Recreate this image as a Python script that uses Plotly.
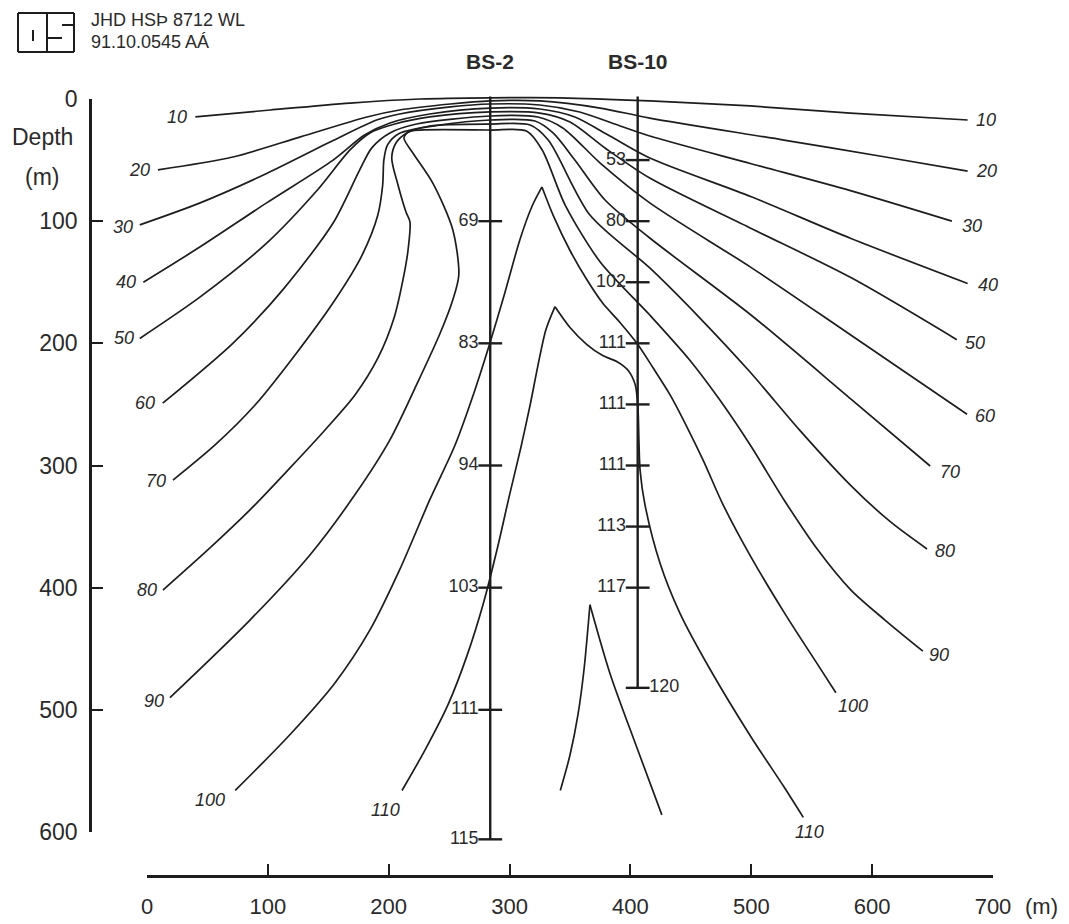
import plotly.graph_objects as go

# ---- isotherms (deg C): distance along profile (m) and depth (m) ----
t10_dist = [40, 102, 168, 226, 284, 342, 416, 499, 582, 679]
t10_depth = [14.7, 9.0, 3.3, 0.0, -1.0, -1.0, 1.6, 5.7, 11.5, 17.2]

t20_dist = [9, 71, 127, 182, 209, 251, 284, 325, 375, 416, 527, 611, 679]
t20_depth = [58, 47.5, 31, 14.7, 9.0, 4.1, 1.6, 1.6, 7.4, 15.6, 33.6, 47.5, 59]

t30_dist = [-6, 44, 99, 154, 190, 209, 251, 284, 325, 358, 387, 416, 500, 582, 666]
t30_depth = [103, 85, 61, 34, 17.2, 12.3, 6.5, 4.1, 4.9, 10.6, 20.5, 30.3, 53, 75, 100]

t40_dist = [-3, 44, 99, 154, 180, 201, 234, 284, 325, 354, 383, 416, 500, 582, 679]
t40_depth = [150, 121, 85, 50, 29.5, 19.6, 12.3, 7.4, 8.2, 14.7, 30.3, 48.3, 80, 114, 151]

t50_dist = [-6, 44, 99, 141, 168, 184.5, 205, 234, 284, 325, 350, 379, 416, 500, 582, 670]
t50_depth = [196, 162, 118, 74.5, 41.7, 27.8, 20.5, 14.7, 10.6, 11.5, 18.8, 40.1, 64.7, 106, 146, 197]

t60_dist = [13, 71, 112.5, 154, 176, 186, 201, 223, 284, 323.5, 344, 375, 416, 500, 582, 678.5]
t60_depth = [249, 200, 156, 101.5, 58, 40, 27.8, 20.5, 13.9, 14.7, 23.7, 52.4, 85, 138, 193, 258]

t70_dist = [21.5, 56.3, 89.4, 122.5, 155.5, 178, 191, 195, 196, 199, 209, 242, 284, 321, 336,
            354, 379, 416, 500, 582.5, 648]
t70_depth = [312, 283.2, 250.5, 209.5, 164.5, 127.7, 95, 70.4, 49.9, 37.6, 28, 21.3, 17.2, 18,
             27.8, 49.9, 82.7, 113.8, 177, 245.6, 300.4]

t80_dist = [13.2, 52.1, 85.2, 118.3, 147.3, 172.1, 191.1, 204.4, 212.6, 216, 217.6, 214.3, 207.7,
            202.5, 206, 215, 234, 284, 317, 332, 366.5, 416, 457.5, 499, 540, 582, 615, 645.4]
t80_depth = [402, 367.5, 336.4, 302, 270.9, 242.3, 212, 179.3, 144, 123.6, 100.7, 92.5, 70.4,
             48.3, 36, 27.8, 22.1, 20.5, 21.3, 33.6, 95, 138.3, 179.3, 223.5, 271, 316, 346, 368.3]

t90_dist = [19, 85.2, 135, 172, 201, 223, 242, 253, 258, 253, 236.6, 220, 212.6, 216, 226,
            284, 314, 327, 346, 375, 416, 449, 474, 499, 527, 555, 582.5, 610.6, 642]
t90_depth = [490, 426.5, 373, 324, 279, 234, 193, 164.5, 144, 107, 69, 44.2, 32, 27, 25.4,
             25.4, 26.2, 41.7, 86.8, 133.4, 176.8, 213.6, 246.4, 283, 328, 369, 402, 426.5, 452]

t100_dist = [73, 118, 155.5, 184.5, 209, 234, 255, 271.4, 284, 296, 308.6, 318.5, 326.8,
             336, 350, 364, 377, 391, 405.4, 418.7, 432.7, 446.8, 460.8, 476.6, 499.8, 527,
             555, 570]
t100_depth = [566, 520.6, 478, 434.6, 385.5, 328, 283, 238, 199, 159, 115, 88, 72,
              95, 124, 148, 167, 182.5, 200, 220, 242, 268.5, 297, 332, 375, 420,
              463, 486]

t110_dist = [211, 230, 249, 265, 278, 289.6, 300, 309.4, 317, 323.5, 330, 337.6,
             350, 364, 377, 389, 398, 404, 406.3, 407, 408, 412, 424.5, 441, 466, 499, 527, 543]
t110_depth = [566, 533, 496, 455, 414, 369, 324, 285, 250.5, 218, 189, 170,
              187, 201, 210, 215, 222, 234, 255, 279, 304, 332, 380, 421, 467, 521, 563, 588]

t120_dist = [342, 350, 356.6, 361.6, 366.5, 383, 405, 426]
t120_depth = [566, 537, 504, 467, 414, 470, 530, 586]

isotherm_names = ["10", "20", "30", "40", "50", "60", "70", "80", "90", "100", "110", "120"]
isotherm_dist = [t10_dist, t20_dist, t30_dist, t40_dist, t50_dist, t60_dist, t70_dist,
                 t80_dist, t90_dist, t100_dist, t110_dist, t120_dist]
isotherm_depth = [t10_depth, t20_depth, t30_depth, t40_depth, t50_depth, t60_depth, t70_depth,
                  t80_depth, t90_depth, t100_depth, t110_depth, t120_depth]

# ---- wells: position, bottom depth and measured temperatures ----
bs2_dist = 284
bs2_bottom = 606
bs2_depths = [100, 200, 300, 400, 500, 606]
bs2_temps = ["69", "83", "94", "103", "111", "115"]

bs10_dist = 406
bs10_bottom = 482
bs10_depths = [50, 100, 150, 200, 250, 300, 350, 400]
bs10_temps = ["53", "80", "102", "111", "111", "111", "113", "117"]
bs10_bottom_temp = "120"

# ---- scale bars ----
dist_ticks = [0, 100, 200, 300, 400, 500, 600, 700]
depth_ticks = [0, 100, 200, 300, 400, 500, 600]

W, H = 1069, 924
INK = "#1d1d1d"
TXT = "#2a2a2a"
FONT = "Liberation Sans, Arial, sans-serif"

# pixel layout of the drawing
PX_PER_M_X = 846 / 700
PX_PER_M_Y = 733 / 600
X0_PX, Y0_PX = 147, 99

# sharp crests: the curve is split there so the spline keeps the point
crest_index = {"100": 12, "110": 11, "120": 4}

fig = go.Figure()

for name, xs, ds in zip(isotherm_names, isotherm_dist, isotherm_depth):
    cut = crest_index.get(name)
    pieces = [(xs, ds)] if cut is None else [(xs[:cut + 1], ds[:cut + 1]), (xs[cut:], ds[cut:])]
    for px_, pd_ in pieces:
        fig.add_trace(go.Scatter(x=px_, y=pd_, mode="lines", name=name,
                                 line=dict(color=INK, width=1.7, shape="spline", smoothing=0.8),
                                 hoverinfo="skip", showlegend=False))

# wells
for wx, wb in [(bs2_dist, bs2_bottom), (bs10_dist, bs10_bottom)]:
    fig.add_trace(go.Scatter(x=[wx, wx], y=[-2, wb], mode="lines",
                             line=dict(color=INK, width=2.4), hoverinfo="skip", showlegend=False))

tick_marker = dict(symbol="line-ew", size=17, line=dict(color=INK, width=2.4))
fig.add_trace(go.Scatter(x=[bs2_dist] * len(bs2_depths), y=bs2_depths, mode="markers+text",
                         text=bs2_temps, textposition="middle left",
                         textfont=dict(family=FONT, size=18, color=TXT), marker=tick_marker,
                         hoverinfo="skip", showlegend=False))
fig.add_trace(go.Scatter(x=[bs10_dist] * len(bs10_depths), y=bs10_depths, mode="markers+text",
                         text=bs10_temps, textposition="middle left",
                         textfont=dict(family=FONT, size=18, color=TXT), marker=tick_marker,
                         hoverinfo="skip", showlegend=False))
fig.add_trace(go.Scatter(x=[bs10_dist], y=[bs10_bottom], mode="markers+text",
                         text=[bs10_bottom_temp], textposition="middle right",
                         textfont=dict(family=FONT, size=18, color=TXT), marker=tick_marker,
                         hoverinfo="skip", showlegend=False))

# anchor trace so the scale-bar axes are drawn
fig.add_trace(go.Scatter(x=[0, 700], y=[0, 600], xaxis="x2", yaxis="y2", mode="markers",
                         marker=dict(opacity=0), hoverinfo="skip", showlegend=False))

# isotherm labels: (side, xshift, yshift)
label_style = {
    "10": [("l", -6, 0), ("r", 6, 0)],
    "20": [("l", -6, 0), ("r", 6, 0)],
    "30": [("l", -5, -2), ("r", 8, -5)],
    "40": [("l", -5, 0), ("r", 8, -2)],
    "50": [("l", -4, 0), ("r", 6, -3)],
    "60": [("l", -6, 0), ("r", 6, -2)],
    "70": [("l", -5, -1), ("r", 8, -6)],
    "80": [("l", -4, 0), ("r", 6, -2)],
    "90": [("l", -4, -3), ("r", 4, -4)],
    "100": [("l", -8, -10), ("r", 0, -13)],
    "110": [("l", 0, -20), ("r", -10, -15)],
}
for name, xs, ds in zip(isotherm_names, isotherm_dist, isotherm_depth):
    for side, xs_px, ys_px in label_style.get(name, []):
        if side == "l":
            x, d, anchor = xs[0], ds[0], "right"
        else:
            x, d, anchor = xs[-1], ds[-1], "left"
        fig.add_annotation(x=x, y=d, xref="x", yref="y", text=f"<i>{name}</i>",
                           showarrow=False, xanchor=anchor, yanchor="middle",
                           xshift=xs_px, yshift=ys_px,
                           font=dict(family=FONT, size=18, color=TXT))

# well names
for wx, wname in [(bs2_dist, "BS-2"), (bs10_dist, "BS-10")]:
    fig.add_annotation(x=wx, y=0, xref="x", yref="y", text=f"<b>{wname}</b>",
                       showarrow=False, yanchor="bottom", yshift=24,
                       font=dict(family=FONT, size=21, color=TXT))

# axis captions
fig.add_annotation(x=42 / W, y=31, xref="paper", yref="y2", text="Depth", showarrow=False,
                   xanchor="center", yanchor="middle",
                   font=dict(family=FONT, size=23, color=TXT))
fig.add_annotation(x=42 / W, y=64, xref="paper", yref="y2", text="(m)", showarrow=False,
                   xanchor="center", yanchor="middle",
                   font=dict(family=FONT, size=23, color=TXT))
fig.add_annotation(x=700, y=1 - 906 / H, xref="x2", yref="paper", text="(m)", showarrow=False,
                   xanchor="left", yanchor="middle", xshift=30,
                   font=dict(family=FONT, size=22, color=TXT))

# header
fig.add_annotation(x=89 / W, y=1 - 20 / H, xref="paper", yref="paper", text="JHD HSÞ 8712 WL",
                   showarrow=False, xanchor="left", yanchor="middle",
                   font=dict(family=FONT, size=18, color=TXT))
fig.add_annotation(x=89 / W, y=1 - 42 / H, xref="paper", yref="paper", text="91.10.0545 AÁ",
                   showarrow=False, xanchor="left", yanchor="middle",
                   font=dict(family=FONT, size=18, color=TXT))


def px(xp, yp):
    return xp / W, 1 - yp / H


logo = [((18, 13), (74, 13)), ((74, 13), (74, 52)), ((74, 52), (18, 52)), ((18, 52), (18, 13)),
        ((47, 13), (47, 52)), ((33, 30), (33, 41)), ((62, 25), (74, 25)), ((47, 38), (62, 38))]
for (a, b) in logo:
    x0, y0 = px(*a)
    x1, y1 = px(*b)
    fig.add_shape(type="line", xref="paper", yref="paper", x0=x0, y0=y0, x1=x1, y1=y1,
                  line=dict(color=INK, width=2))

x_lo = -X0_PX / PX_PER_M_X
x_hi = (W - X0_PX) / PX_PER_M_X
y_lo = -Y0_PX / PX_PER_M_Y
y_hi = (H - Y0_PX) / PX_PER_M_Y

axis_common = dict(showgrid=False, zeroline=False)
fig.update_layout(
    width=W, height=H,
    margin=dict(l=0, r=0, t=0, b=0, autoexpand=False),
    paper_bgcolor="white", plot_bgcolor="rgba(0,0,0,0)",
    font=dict(family=FONT, color=TXT),
    xaxis=dict(domain=[0, 1], range=[x_lo, x_hi], visible=False, **axis_common),
    yaxis=dict(domain=[0, 1], range=[y_hi, y_lo], visible=False, **axis_common),
    xaxis2=dict(domain=[147 / W, 993 / W], range=[0, 700], anchor="free",
                position=1 - 876 / H, showline=True, linewidth=2.6, linecolor=INK,
                ticks="inside", ticklen=11, tickwidth=2, tickcolor=INK,
                tickvals=dist_ticks, tickfont=dict(family=FONT, size=22, color=TXT),
                ticklabelstandoff=10, automargin=False, **axis_common),
    yaxis2=dict(domain=[1 - 832 / H, 1 - 99 / H], range=[600, 0], anchor="free",
                position=90 / W, showline=True, linewidth=2.6, linecolor=INK,
                ticks="inside", ticklen=11, tickwidth=2.4, tickcolor=INK,
                tickvals=depth_ticks, tickfont=dict(family=FONT, size=23, color=TXT),
                ticklabelstandoff=7, automargin=False, **axis_common),
)

fig.write_html("out.html")
